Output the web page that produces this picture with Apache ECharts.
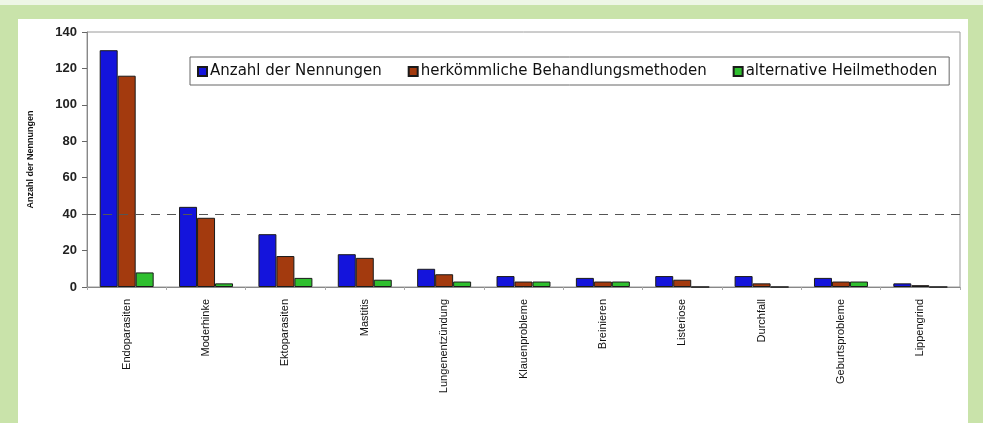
<!DOCTYPE html>
<html><head><meta charset="utf-8">
<script src="https://cdn.jsdelivr.net/npm/echarts@6/dist/echarts.min.js"></script>
<style>html,body{margin:0;padding:0;background:#c9e3aa;}#c{width:983px;height:423px;}</style>
</head><body><div id="c"></div>
<script>
const categories = ["Endoparasiten","Moderhinke","Ektoparasiten","Mastitis","Lungenentzündung","Klauenprobleme","Breinieren","Listeriose","Durchfall","Geburtsprobleme","Lippengrind"];
const anzahl = [130,44,29,18,10,6,5,6,6,5,2];
const herkoemmlich = [116,38,17,16,7,3,3,4,2,3,1];
const alternativ = [8,2,5,4,3,3,3,0,0,3,0];
const seriesNames = ["Anzahl der Nennungen","herkömmliche Behandlungsmethoden","alternative Heilmethoden"];
const yTicks = [0,20,40,60,80,100,120,140];
const refLine = 40;

const chart = echarts.init(document.getElementById('c'), null, {renderer:'canvas'});
const font = 'Arial, "Liberation Sans", sans-serif';
const barStyle = (c) => ({color:c, borderColor:'#1a1a1a', borderWidth:1});
chart.setOption({
  animation:false,
  backgroundColor:'#c9e3aa',
  graphic:[
    {type:'rect', shape:{x:0,y:0,width:983,height:5}, style:{fill:'#eef6e6'}, z:-10},
    {type:'rect', shape:{x:18,y:19,width:950,height:404}, style:{fill:'#ffffff'}, z:-10}
  ],
  grid:{left:87, right:23, top:32, bottom:136, show:true, borderColor:'#9a9a9a', borderWidth:1, backgroundColor:'transparent'},
  legend:{
    top:57, left:190, itemWidth:9, itemHeight:9, itemGap:26,
    padding:[7,12,6,7], borderColor:'#666', borderWidth:1,
    textStyle:{fontFamily:'"DejaVu Sans", Verdana, sans-serif', fontSize:15, color:'#111', padding:[0,0,0,-2]},
    data:seriesNames.map(n=>({name:n, icon:'rect'}))
  },
  xAxis:{
    type:'category', data:categories,
    axisLine:{lineStyle:{color:'#888'}},
    axisTick:{show:true, length:3, lineStyle:{color:'#aaa'}},
    axisLabel:{rotate:90, interval:0, margin:12, fontFamily:font, fontSize:11, color:'#111'}
  },
  yAxis:{
    type:'value', min:0, max:140, interval:20,
    name:'Anzahl der Nennungen', nameLocation:'middle', nameGap:52, nameRotate:90,
    nameTextStyle:{fontFamily:font, fontSize:9, fontWeight:'bold', color:'#111'},
    axisLine:{show:true, lineStyle:{color:'#888'}},
    axisTick:{show:true, length:5, lineStyle:{color:'#666'}},
    axisLabel:{fontFamily:font, fontSize:13, fontWeight:'bold', color:'#222', margin:10},
    splitLine:{show:false}
  },
  series:[
    {name:seriesNames[0], type:'bar', data:anzahl, itemStyle:barStyle('#1414dc'), barGap:'0%', barCategoryGap:'32%',
     markLine:{symbol:'none', silent:true, label:{show:false}, lineStyle:{color:'#555', type:[9,7], width:1}, data:[{yAxis:refLine}]}},
    {name:seriesNames[1], type:'bar', data:herkoemmlich, itemStyle:barStyle('#a33a0e'), barGap:'0%', barCategoryGap:'32%'},
    {name:seriesNames[2], type:'bar', data:alternativ, itemStyle:barStyle('#2fbf2f'), barGap:'0%', barCategoryGap:'32%'}
  ]
});
</script></body></html>
